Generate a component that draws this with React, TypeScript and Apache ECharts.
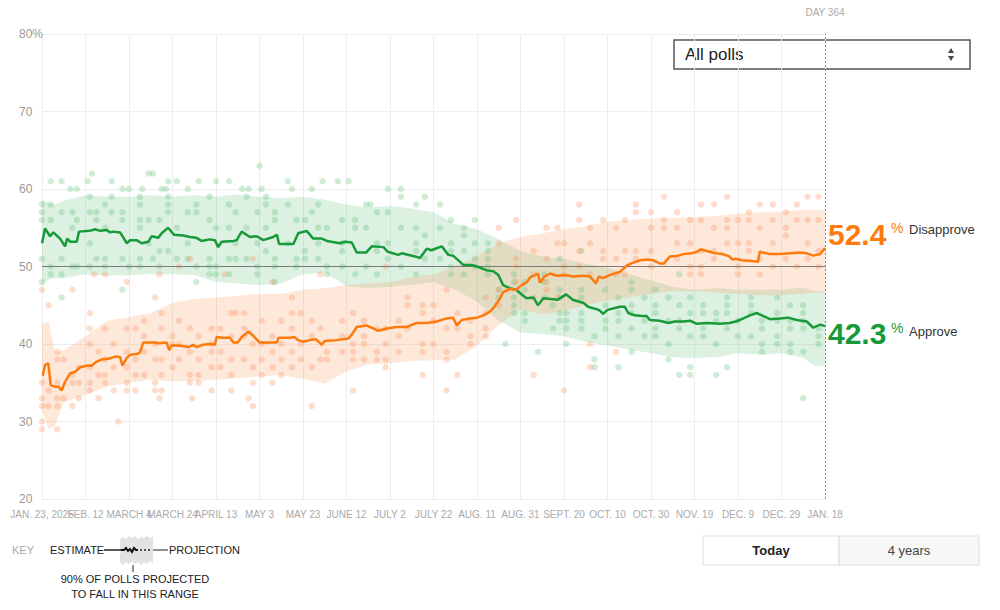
import React, { useEffect, useRef } from "react";
import * as echarts from "echarts";

const xTickLabels = ["JAN. 23, 2025", "FEB. 12", "MARCH 4", "MARCH 24", "APRIL 13", "MAY 3", "MAY 23", "JUNE 12", "JULY 2", "JULY 22", "AUG. 11", "AUG. 31", "SEPT. 20", "OCT. 10", "OCT. 30", "NOV. 19", "DEC. 9", "DEC. 29", "JAN. 18"];
const yTickLabels: Record<number, string> = { 20: "20", 30: "30", 40: "40", 50: "50", 60: "60", 70: "70", 80: "80%" };

const approveLine: [number, number][] = [[0,53.0],[1.4,54.9],[3.7,53.9],[5.2,54.4],[8.3,53.6],[10.6,52.6],[11.6,53.6],[12.9,53.2],[16,53.2],[17,54.5],[22,54.6],[24.4,54.8],[26.7,54.6],[29.7,54.7],[31.3,54.4],[32.8,54.5],[35.9,54.4],[39,53.0],[40.5,53.4],[43.5,53.4],[45.8,53.0],[48.9,53.2],[50.4,53.9],[53.5,53.7],[55,54.3],[58,55.0],[60.7,54.1],[65,54.0],[68,53.8],[71,53.7],[73.4,53.3],[77,53.5],[79.5,53.4],[81,52.5],[82.6,53.2],[88,53.3],[89.5,53.4],[91.8,54.5],[95.6,53.8],[98.7,53.9],[101.7,53.4],[106.3,53.8],[108,54.1],[109,52.9],[115.6,52.9],[117.8,54.3],[121.7,54.6],[124.7,53.6],[128.6,53.6],[131,53.3],[137,53.0],[139.3,53.2],[142.4,53.1],[144.7,51.8],[149,51.8],[151.6,52.6],[157,52.5],[159,51.9],[163.8,51.5],[165.4,51.7],[171.5,51.3],[173.8,51.1],[176.9,52.3],[179,52.1],[183.8,52.6],[186.8,51.5],[189,51.4],[193.7,50.2],[197.5,50.2],[201,49.9],[204.5,49.5],[207.5,49.4],[209.8,48.9],[212,47.6],[215,47.2],[218,47.0],[221,46.3],[222.8,45.9],[226,46.0],[228,45.0],[230.5,45.9],[234,45.8],[237,45.7],[241,46.4],[244,45.7],[249,45.3],[251,44.8],[256,44.4],[258,43.9],[260,44.4],[265.7,44.8],[268,44.8],[269.5,44.0],[272.6,43.7],[275.7,43.6],[278,43.6],[279.5,43.1],[284,43.0],[288,42.7],[291,42.9],[295,42.9],[298,43.0],[301,42.6],[305.6,42.7],[311.7,42.6],[316,42.7],[319,42.9],[321.7,43.2],[325.5,43.7],[328.6,44.0],[331.7,43.6],[334.7,43.2],[339,43.3],[343,43.4],[347,43.1],[351.6,42.9],[354.6,42.1],[357.8,42.5],[360,42.3]];

const disapproveLine: [number, number][] = [[0.3,35.9],[1.4,37.3],[2.9,37.5],[4,34.7],[6,34.5],[7.5,34.5],[9,34.0],[10.6,35.1],[12.9,36.2],[15.2,36.4],[17.5,37.0],[20.5,37.2],[22.8,37.2],[25,37.7],[27.4,38.0],[30.5,38.1],[34.3,38.4],[35.9,38.3],[37,37.2],[39,38.2],[40.5,38.6],[43.5,38.7],[45,38.9],[46.6,40.2],[52,40.2],[53.5,40.1],[57.3,40.2],[58.5,39.2],[59.6,39.8],[63,39.8],[67.3,39.6],[69.6,39.9],[71,39.6],[74,39.9],[77,40.0],[79.5,39.9],[80.3,40.9],[83,40.8],[86.4,40.8],[88,40.2],[90,40.2],[91.8,40.9],[95,41.6],[97,41.1],[100,40.2],[104.8,40.2],[108,40.2],[108.7,40.8],[114,40.8],[116,40.9],[117.8,40.5],[120,40.3],[123,40.5],[126,40.6],[128.6,39.9],[130,40.4],[135.5,40.5],[140.8,40.7],[142.4,41.2],[144.7,42.2],[149,42.4],[151.6,42.1],[154.6,41.7],[158.5,42.0],[163,42.2],[167.7,42.2],[172,42.7],[177,42.7],[181.5,42.9],[186,43.3],[189,43.4],[190.7,42.4],[193,43.1],[196.8,43.3],[200,43.4],[203,43.7],[206,44.2],[208,44.8],[210.6,45.9],[212,46.7],[215,47.1],[218,47.0],[220.5,47.6],[223,48.0],[224.4,48.6],[226.7,48.9],[228,49.1],[229,47.9],[231,48.7],[233.6,49.1],[236.7,48.8],[241,48.9],[244,48.7],[249,48.8],[252,48.7],[254.7,47.8],[256,48.7],[258,48.5],[261,48.9],[265.7,49.3],[268.8,50.1],[271,50.4],[275,50.8],[278,50.9],[281,50.8],[284,50.4],[286,50.4],[288.7,51.3],[292.5,51.4],[295,51.6],[298.7,51.7],[301,51.9],[303,52.2],[305.6,52.0],[309.4,51.7],[313,51.6],[316,51.3],[317.5,50.9],[319,51.0],[321.7,50.8],[326.3,50.7],[329.2,50.6],[330,51.9],[334.7,51.6],[339,51.6],[344,51.7],[348.5,51.8],[351.6,51.7],[354.6,51.4],[357.8,51.6],[360,52.4]];

const bandDays = [0, 3, 6, 10, 20, 30, 40, 50, 60, 70, 80, 90, 100, 110, 120, 130, 140, 150, 160, 170, 180, 190, 200, 210, 220, 230, 240, 250, 260, 270, 280, 290, 300, 310, 320, 330, 340, 350, 355, 360];
const approveUpper = [58.6, 58.2, 58.0, 58.5, 59.2, 59.0, 59.0, 59.2, 59.0, 59.2, 59.0, 59.3, 59.0, 58.8, 59.0, 58.6, 58.0, 57.6, 57.8, 57.5, 57.0, 55.5, 54.8, 53.5, 52.0, 51.3, 51.0, 50.4, 49.8, 49.0, 48.2, 47.4, 47.0, 47.2, 47.0, 47.0, 47.0, 47.3, 46.8, 46.8];
const approveLower = [47.8, 48.3, 48.5, 48.5, 49.0, 48.8, 48.9, 49.0, 49.0, 48.9, 48.0, 47.8, 47.6, 47.8, 49.0, 49.2, 47.5, 47.2, 47.4, 47.6, 48.0, 47.0, 45.5, 43.0, 41.5, 41.3, 41.0, 40.3, 39.8, 39.3, 38.8, 38.3, 38.2, 38.3, 38.8, 38.6, 38.8, 38.2, 37.2, 37.2];
const disapproveUpper = [42.5, 43.0, 39.0, 39.2, 41.0, 43.0, 43.5, 44.0, 45.3, 45.8, 46.0, 46.2, 46.5, 46.5, 47.0, 47.2, 47.6, 47.8, 48.0, 48.6, 49.0, 50.0, 51.3, 53.0, 53.8, 54.3, 54.8, 55.2, 55.8, 56.0, 56.2, 56.3, 56.4, 56.5, 56.8, 57.0, 57.1, 57.3, 57.3, 57.3];
const disapproveLower = [31.5, 29.0, 29.5, 32.5, 33.5, 34.5, 35.0, 35.4, 35.2, 35.2, 35.4, 35.6, 35.8, 36.0, 35.5, 34.9, 36.5, 37.4, 37.5, 37.8, 37.9, 38.0, 39.8, 42.5, 44.5, 43.8, 44.3, 45.0, 45.6, 46.0, 46.5, 46.8, 46.8, 46.6, 46.5, 46.3, 46.3, 46.5, 46.6, 46.6];

const approvePolls: [number, number[]][] = [
  [0,[58,57,56,51,48]],[4,[61,58,56,50,49]],[9,[61,57,51,49,46]],[13,[60]],[14,[57,55,50]],[16,[60,56,50]],
  [21,[61]],[22,[59,57,53,50]],[23,[62]],[25,[57,56,51]],[29,[58,55,51,50]],[32,[61,59,57]],[37,[60,57,56,51,47]],[40,[60,50]],
  [45,[59,58,56,55,51,50]],[46,[60]],[49,[62,56,53]],[51,[62,51]],[54,[56,52,50]],[55,[60]],[57,[60]],
  [58,[61,59,58,57,52]],[62,[61,55,51]],[67,[60,57,53,51]],[71,[58,57,50,48]],[72,[61]],[77,[59,56,51,50,49]],[80,[61,55,50,49]],
  [86,[61,58,55,51,49]],[89,[57,53,51]],[92,[60]],[94,[59,55,51]],[95,[60]],[99,[57,53,50,49]],[100,[63]],[101,[60]],
  [103,[59,58,55,52]],[107,[57,56,51,50,48]],[113,[61,58,53]],[115,[60]],[117,[56,51,50]],
  [121,[56,52,51]],[124,[60,57]],[127,[58,55,53,51]],[129,[61]],[131,[55,50,49]],[136,[61]],[138,[56,53,52,50]],[141,[61]],[144,[56,55,49]],
  [149,[58,55,50]],[151,[58]],[154,[57,53,52,49]],[159,[60,57,53,51]],[165,[60,59,55,50]],[172,[58,55,53,52,49]],[176,[59,54,51]],
  [183,[58,55,51]],[188,[56,53,52,50,49]],[194,[55,54,52,49]],[199,[56,53,51,50]],[205,[53,52,51,50,49]],[210,[47,46]],[213,[40]],
  [217,[49,48,46,45,44]],[222,[48,47,44,43]],[228,[39]],[231,[49,48,46]],[235,[45,42]],
  [238,[51,47,46,44,43]],[241,[44,43,42,40]],[248,[52,47,46,44,43,42]],[254,[41,38,37]],[259,[47,45,43,42]],[265,[46,44,43,41,37]],
  [271,[48,47,45,44,42,39]],[277,[46,43,41]],[282,[47,45,44,42,41]],[288,[46,43,40,38]],[293,[49,45,43,42,36]],[298,[46,44,41,37,36]],
  [304,[45,44,42,41]],[310,[44,43,40,36]],[315,[46,45,44,42,37]],[320,[43,41]],[326,[46,45,44,41]],[331,[43,42,40,39]],
  [338,[46,44,43,41,40]],[344,[45,43,42,40,39]],[350,[45,44,43,42,39,33]],[357,[42,41,40]]
];

const disapprovePolls: [number, number[]][] = [
  [0,[47,35,33,32,30,29]],[3,[45,34,32]],[7,[39,38,35,33,32,29]],[10,[38,33]],[14,[47,36,35,32]],[17,[37,35,33]],
  [22,[44,42,40,37,35,34]],[24,[49]],[26,[39,36,33]],[29,[49,42,38,36,35]],[33,[40,37,34]],[35,[30]],[39,[48,42,39,37,35,34]],
  [43,[42,38,36,34]],[47,[43,41,39,36]],[52,[46,40,38,35,34]],[54,[49,33]],[55,[44,42,38,36,34]],[60,[41,40,37]],
  [63,[50,43,40,38]],[68,[51,42,39,36,35]],[69,[33]],[72,[41,38,36,35]],[78,[42,40,39,37,34]],[82,[42,39,37]],[84,[49]],
  [87,[44,41,38,36,34]],[89,[44]],[93,[44,42,41,38]],[95,[33]],[97,[51,40,37,35,32]],[101,[43,40,38,36]],[106,[48,41,39,37,35]],
  [110,[43,40,38,36]],[115,[46,44,42,39,37]],[119,[44,40,38]],[124,[43,41,37,32]],[128,[49,42,38]],[131,[39,38]],
  [138,[43,41,39]],[143,[44,40,39,38,34]],[148,[43,41,40,38]],[154,[42,39,38]],[158,[50,42,40,38,37]],[164,[43,41,39]],
  [168,[46,45,42]],[175,[45,44,40,39,36]],[180,[45,43,40]],[186,[47,42,39,38,34]],[191,[44,42,36]],[197,[43,41,40]],
  [204,[46,44,42,41]],[210,[55,53,47,45]],[218,[56,51,50,48]],[226,[52,49,46,36]],[232,[55,51,48,47]],[237,[55,53,46]],
  [240,[53,50,49,34]],[247,[58,56,52,50]],[252,[55,53,49,40,37]],[258,[56,52,51]],[264,[55,51,49,39]],[268,[56,52,49]],
  [273,[58,57,52,51]],[280,[57,55,52,50]],[286,[59,56,55]],[292,[57,55,53,51]],[298,[56,53,50,49]],[303,[58,56,52,50,49]],
  [309,[58,55,52,51]],[315,[59,56,55,53]],[320,[56,53,50,49]],[325,[57,56,53,52]],[330,[58,55,51,49]],[336,[58,56,53,50]],
  [342,[57,55,54,51]],[347,[58,56,50]],[352,[59,56,53,51]],[357,[59,56,52,50]]
];

const GREEN = "#179a3a";
const ORANGE = "#ff7a0c";
const FONT = '"Liberation Sans", Arial, Helvetica, sans-serif';

function flatten(groups: [number, number[]][]) {
  const out: [number, number][] = [];
  groups.forEach(([d, vs]) => vs.forEach((v) => out.push([d, v])));
  return out;
}

function band(upper: number[], lower: number[], fill: string, z: number) {
  return {
    type: "custom",
    silent: true,
    z,
    data: [[0, 50]],
    encode: { x: 0, y: 1 },
    renderItem: (_p: any, api: any) => {
      const pts: number[][] = [];
      bandDays.forEach((d, i) => pts.push(api.coord([d, upper[i]])));
      for (let i = bandDays.length - 1; i >= 0; i--) pts.push(api.coord([bandDays[i], lower[i]]));
      return { type: "polygon", shape: { points: pts }, style: { fill } };
    },
  };
}

function txt(text: string, x: number, y: number, font: string, fill: string, align = "left") {
  return { type: "text", x, y, silent: true, style: { text, font, fill, textAlign: align, textVerticalAlign: "middle" } };
}

const xAxisBase = {
  type: "value", min: 0, max: 360, interval: 20, gridIndex: 0, position: "bottom",
  axisLine: { show: false }, axisTick: { show: false },
};

export default function App() {
  const ref = useRef<HTMLDivElement>(null);
  useEffect(() => {
    document.body.style.margin = "0";
    const chart = echarts.init(ref.current!, null, { renderer: "svg" });
    const option: any = {
      animation: false,
      textStyle: { fontFamily: FONT },
      grid: { left: 42, right: 175, top: 34, bottom: 111 },
      xAxis: [
        {
          ...xAxisBase,
          splitLine: { lineStyle: { color: "#eeeeee" } },
          axisLabel: {
            color: "#aaaaaa", fontSize: 10, margin: 10, showMinLabel: false, showMaxLabel: true, hideOverlap: false,
            formatter: (v: number) => (v === 0 ? "" : xTickLabels[Math.round(v / 20)] ?? ""),
          },
        },
        {
          ...xAxisBase,
          splitLine: { show: false },
          axisLabel: {
            color: "#aaaaaa", fontSize: 10, margin: 10, showMinLabel: true, showMaxLabel: false,
            formatter: (v: number) => (v === 0 ? xTickLabels[0] : ""),
          },
        },
      ],
      yAxis: {
        type: "value", min: 20, max: 80, interval: 10,
        axisLine: { show: false }, axisTick: { show: false },
        splitLine: { lineStyle: { color: "#eeeeee" } },
        axisLabel: { color: "#999999", fontSize: 12, align: "left", margin: 23, showMinLabel: true, showMaxLabel: true, formatter: (v: number) => yTickLabels[v] ?? "" },
      },
      series: [
        band(approveUpper, approveLower, "rgba(80,185,110,0.2)", 1),
        band(disapproveUpper, disapproveLower, "rgba(252,140,70,0.2)", 2),
        {
          type: "scatter", z: 3, silent: true, symbolSize: 6.5,
          itemStyle: { color: "rgba(105,195,125,0.4)" },
          data: flatten(approvePolls),
        },
        {
          type: "scatter", z: 3, silent: true, symbolSize: 6.5,
          itemStyle: { color: "rgba(252,150,95,0.4)" },
          data: flatten(disapprovePolls),
          markLine: {
            silent: true, symbol: "none",
            data: [
              { yAxis: 50, lineStyle: { color: "#7a7a7a", type: "solid", width: 1 }, label: { show: false } },
              {
                xAxis: 360, lineStyle: { color: "#888888", type: [2, 2], width: 1 },
                label: { show: true, position: "end", formatter: "DAY 364", color: "#aaaaaa", fontSize: 10, distance: 17 },
              },
            ],
          },
        },
        {
          type: "line", z: 5, silent: true, symbol: "none",
          lineStyle: { color: GREEN, width: 2.5 }, data: approveLine,
        },
        {
          type: "line", z: 5, silent: true, symbol: "none",
          lineStyle: { color: ORANGE, width: 2.5 }, data: disapproveLine,
        },
      ],
      graphic: [
        txt(disapproveLine[disapproveLine.length - 1][1].toFixed(1), 828, 234, `bold 30px ${FONT}`, ORANGE),
        txt("%", 891, 228, `14px ${FONT}`, ORANGE),
        txt("Disapprove", 909, 229, `13px ${FONT}`, "#333333"),
        txt(approveLine[approveLine.length - 1][1].toFixed(1), 828, 333, `bold 30px ${FONT}`, GREEN),
        txt("%", 891, 328, `14px ${FONT}`, GREEN),
        txt("Approve", 909, 331, `13px ${FONT}`, "#333333"),
        // dropdown
        { type: "rect", silent: true, shape: { x: 674, y: 40, width: 296, height: 29 }, style: { fill: "#ffffff", stroke: "#555555", lineWidth: 1.5 } },
        txt("All polls", 685, 54, `17px ${FONT}`, "#222222"),
        { type: "polygon", silent: true, shape: { points: [[948, 53], [954, 53], [951, 48]] }, style: { fill: "#444444" } },
        { type: "polygon", silent: true, shape: { points: [[948, 56], [954, 56], [951, 61]] }, style: { fill: "#444444" } },
        // buttons
        { type: "rect", silent: true, shape: { x: 703, y: 536, width: 136, height: 29 }, style: { fill: "#ffffff", stroke: "#dddddd", lineWidth: 1 } },
        { type: "rect", silent: true, shape: { x: 839, y: 536, width: 140, height: 29 }, style: { fill: "#f7f7f7", stroke: "#dddddd", lineWidth: 1 } },
        txt("Today", 771, 550, `bold 13px ${FONT}`, "#222222", "center"),
        txt("4 years", 909, 550, `13px ${FONT}`, "#444444", "center"),
        // key
        txt("KEY", 12, 550, `11px ${FONT}`, "#aaaaaa"),
        txt("ESTIMATE", 50, 550, `11px ${FONT}`, "#222222"),
        {
          type: "polygon", silent: true,
          shape: { points: [[120, 540], [123, 537], [126, 539], [129, 536], [132, 538], [135, 536], [138, 539], [141, 537], [144, 538], [147, 536], [150, 538], [153, 537], [153, 563], [150, 561], [147, 564], [144, 562], [141, 565], [138, 562], [135, 564], [132, 561], [129, 564], [126, 562], [123, 565], [120, 562]] },
          style: { fill: "#e2e2e2" },
        },
        { type: "line", silent: true, shape: { x1: 104, y1: 550, x2: 121, y2: 550 }, style: { stroke: "#222222", lineWidth: 1.5 } },
        { type: "polyline", silent: true, shape: { points: [[121, 550], [124, 550], [126, 548], [128, 551], [130, 549], [132, 552], [134, 548], [136, 550], [138, 550]] }, style: { stroke: "#111111", lineWidth: 2, fill: null } },
        { type: "line", silent: true, shape: { x1: 140, y1: 550, x2: 152, y2: 550 }, style: { stroke: "#222222", lineWidth: 1.5, lineDash: [2, 2] } },
        { type: "line", silent: true, shape: { x1: 153, y1: 550, x2: 168, y2: 550 }, style: { stroke: "#222222", lineWidth: 1 } },
        txt("PROJECTION", 169, 550, `11px ${FONT}`, "#222222"),
        { type: "line", silent: true, shape: { x1: 133, y1: 565, x2: 133, y2: 572 }, style: { stroke: "#222222", lineWidth: 1 } },
        txt("90% OF POLLS PROJECTED", 135, 579, `11px ${FONT}`, "#222222", "center"),
        txt("TO FALL IN THIS RANGE", 135, 594, `11px ${FONT}`, "#222222", "center"),
      ],
    };
    chart.setOption(option);
    return () => chart.dispose();
  }, []);
  return <div ref={ref} style={{ width: 1000, height: 610 }} />;
}
